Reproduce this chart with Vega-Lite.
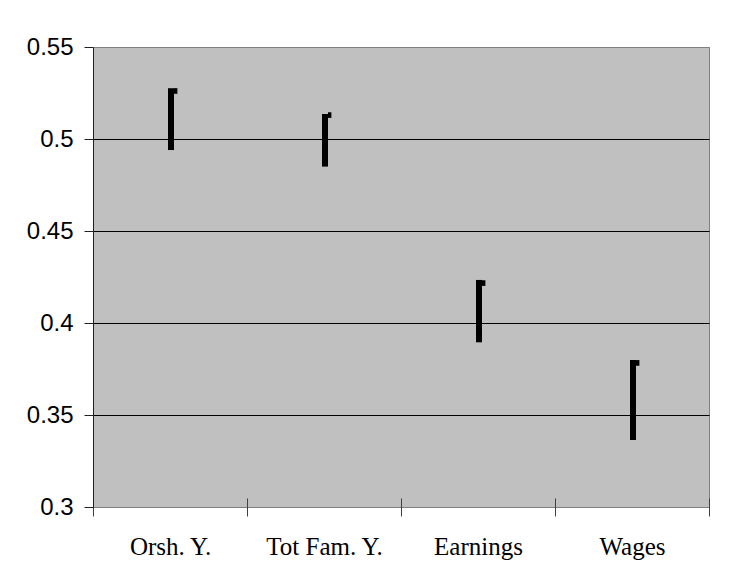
{
  "$schema": "https://vega.github.io/schema/vega-lite/v6.json",
  "autosize": "none",
  "width": 616,
  "height": 460,
  "padding": {"left": 93, "top": 47, "right": 24, "bottom": 79},
  "background": "white",
  "config": {
    "view": {"fill": "#C0C0C0", "stroke": "#808080", "strokeWidth": 1}
  },
  "data": {
    "values": [
      {"category": "Orsh. Y.", "high": 0.5276, "low": 0.494, "close": 0.5261},
      {"category": "Tot Fam. Y.", "high": 0.5136, "low": 0.485, "close": 0.513},
      {"category": "Earnings", "high": 0.4234, "low": 0.3895, "close": 0.4217},
      {"category": "Wages", "high": 0.3799, "low": 0.3364, "close": 0.3783}
    ]
  },
  "encoding": {
    "x": {
      "field": "category",
      "type": "nominal",
      "sort": null,
      "scale": {"paddingInner": 0, "paddingOuter": 0},
      "axis": {
        "title": null,
        "labelAngle": 0,
        "labelFont": "Liberation Serif",
        "labelFontSize": 25,
        "labelColor": "black",
        "labelPadding": 18,
        "domain": false,
        "ticks": true,
        "tickBand": "extent",
        "tickSize": 18,
        "tickColor": "#404040",
        "tickWidth": 1,
        "offset": -9,
        "grid": false
      }
    }
  },
  "layer": [
    {
      "mark": {"type": "rule", "strokeWidth": 6, "strokeCap": "butt", "color": "black", "xOffset": 1},
      "encoding": {
        "y": {
          "field": "low",
          "type": "quantitative",
          "scale": {"domain": [0.3, 0.55], "nice": false, "zero": false},
          "axis": {
            "title": null,
            "values": [0.3, 0.35, 0.4, 0.45, 0.5, 0.55],
            "format": "~g",
            "labelFont": "Liberation Sans",
            "labelFontSize": 24,
            "labelColor": "black",
            "labelPadding": 11,
            "tickSize": 9,
            "tickColor": "#202020",
            "domainColor": "#202020",
            "domainWidth": 1,
            "grid": true,
            "gridColor": {"condition": {"test": "datum.value >= 0.55 || datum.value <= 0.3", "value": "#808080"}, "value": "black"},
            "gridWidth": 1,
            "gridOpacity": 1
          }
        },
        "y2": {"field": "high"}
      }
    },
    {
      "mark": {"type": "point", "shape": "M-0.6,-1H0.6V1H-0.6Z", "filled": true, "color": "black", "opacity": 1, "size": 32, "xOffset": 5.7},
      "encoding": {
        "y": {"field": "close", "type": "quantitative"}
      }
    },
    {
      "mark": {"type": "rule", "color": "#202020", "strokeWidth": 1},
      "encoding": {
        "y": {"datum": 0.3, "type": "quantitative"}
      }
    }
  ]
}
